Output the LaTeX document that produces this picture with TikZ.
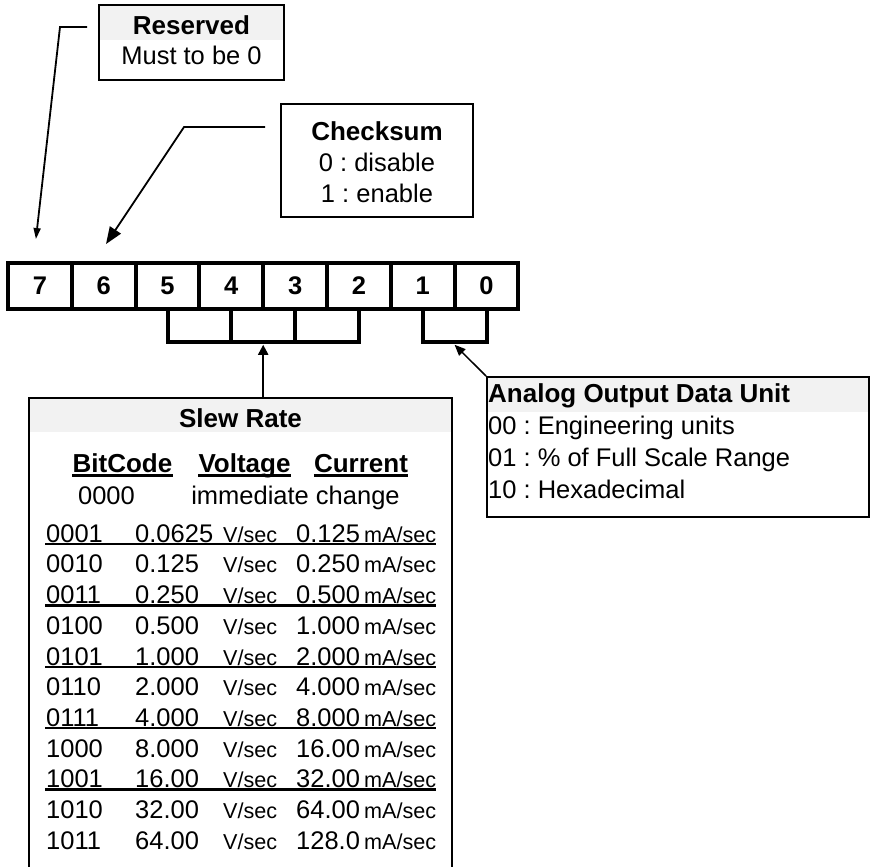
\documentclass[tikz,border=0pt]{standalone}
\usepackage{fontspec}
\setmainfont{Liberation Sans}
\usetikzlibrary{
    arrows.meta,
    calc,
    positioning
}
\frenchspacing
\definecolor{headgrey}{HTML}{F2F2F2}
\newcommand{\bodysize}{\fontsize{25.5}{30}\selectfont}
\newcommand{\unitsize}{\fontsize{21.6}{26}\selectfont}
\tikzset{
    bitcell/.style={draw, line width=4pt, minimum width=63.8pt, minimum height=45.7pt,
        inner sep=0pt, font=\fontsize{25.5}{28}\selectfont\bfseries},
    infobox/.style={draw, line width=2pt, inner sep=0pt},
    headband/.style={path picture={\fill[headgrey] (path picture bounding box.north west)
        rectangle ([yshift=-#1]path picture bounding box.north east);}},
    txt/.style={inner sep=0pt, text height=18.4pt, text depth=0pt, font=\bodysize},
    bold/.style={txt, font=\fontsize{26}{30}\selectfont\bfseries},
    unit/.style={txt, font=\unitsize},
    leader/.style={line width=1.8pt},
    brkline/.style={line width=4pt},
    rowline/.style={line width=2.5pt}
}

\begin{document}
\begin{tikzpicture}[x=1pt, y=-1pt]
                        \useasboundingbox (0, 0) rectangle (873, 867);
                        % bit row
                        \foreach \b [count=\i from 0] in {7,6,...,0}
                            \node[bitcell] (bit\b) at ({8+63.8*(\i+0.5)}, 285.9) {\b};
                        \draw[brkline]
                        (bit5.south) -- ++(0, 31.5) -| (bit2.south)
                        (bit4.south) -- ++(0, 31.5)
                        (bit3.south) -- ++(0, 31.5)
                        (bit1.south) -- ++(0, 31.5) -| (bit0.south);
                        \coordinate (brk52) at ($(bit4.south)!0.5!(bit3.south)+(0, 34)$);
                        \coordinate (brk10) at ($(bit1.south)!0.5!(bit0.south)+(0, 34)$);
                        % boxes
                        \node[infobox, headband=35pt, minimum width=185pt, minimum height=75pt]
                            (reserved) at (191.5, 42.5) {};
                        \node[bold] (restitle) at (191.5, 25) {Reserved};
                        \node[txt] (resline) at (191.5, 55) {Must to be 0};
                        \node[infobox, minimum width=192pt, minimum height=113pt]
                            (checksum) at (377, 160.5) {};
                        \node[bold] (cktitle) at (377, 131) {Checksum};
                        \node[txt] (ckoff) at (377, 162) {0 : disable};
                        \node[txt] (ckon) at (377, 193) {1 : enable};
                        \node[infobox, headband=35pt, minimum width=382pt, minimum height=140pt]
                            (analog) at (678, 447) {};
                        \node[bold, anchor=west] (antitle) at (488, 393) {Analog Output Data Unit};
                        \node[txt, anchor=west] (aneng) at (488, 425) {00 : Engineering units};
                        \node[txt, anchor=west] (anfsr) at (488, 457) {01 : \% of Full Scale Range};
                        \node[txt, anchor=west] (anhex) at (488, 489) {10 : Hexadecimal};
                        \node[infobox, headband=34pt, minimum width=423pt, minimum height=482pt]
                            (slew) at (240.5, 639) {};
                        \node[bold] (slewtitle) at (240.5, 418) {Slew Rate};
                        \node[bold] (hdcode) at (122.5, 463) {BitCode};
                        \node[bold] (hdvolt) at (244.5, 463) {Voltage};
                        \node[bold] (hdcurr) at (361, 463) {Current};
                        \foreach \h in {hdcode, hdvolt, hdcurr}
                            \draw[line width=2.7pt] ([yshift=-3pt]\h.south west) -- ([yshift=-3pt]\h.south east);
                        \node[txt] (code0000) at (106.5, 495) {0000};
                        \node[txt] (immediate) at (295.5, 495) {immediate change};
                        \foreach \code/\volt/\curr [count=\r from 0] in {
                            0001/0.0625/0.125, 0010/0.125/0.250, 0011/0.250/0.500,
                            0100/0.500/1.000, 0101/1.000/2.000, 0110/2.000/4.000,
                            0111/4.000/8.000, 1000/8.000/16.00, 1001/16.00/32.00,
                            1010/32.00/64.00, 1011/64.00/128.0} {
                            \node[txt, anchor=west] (code\r) at (46, {533+30.7*\r}) {\code};
                            \node[txt, anchor=west] (volt\r) at (135, {533+30.7*\r}) {\volt};
                            \node[unit, anchor=west] (vsec\r) at (223, {533+30.7*\r}) {V/sec};
                            \node[txt, anchor=west] (curr\r) at (296, {533+30.7*\r}) {\curr};
                            \node[unit, anchor=west] (unit\r) at (364, {533+30.7*\r}) {mA/sec};
                        }
                        \foreach \r in {0, 2, 4, 6, 8}
                            \draw[rowline] ([xshift=-1pt, yshift=-11pt]code\r.west) -- ([yshift=-11pt]unit\r.east);
                        % connectors
                        \draw[leader, -{Triangle[length=11pt, width=7pt]}]
                        ([xshift=-11pt, yshift=15.5pt]reserved.west) -- ++(-27, 0)
                        -- ([xshift=-4pt, yshift=22pt]bit7.north);
                        \draw[leader, -{Triangle[length=17pt, width=13pt]}]
                        ([xshift=-15pt, yshift=33.5pt]checksum.west) -- ++(-81, 0)
                        -- ([xshift=2.3pt, yshift=17pt]bit6.north);
                        \draw[line width=2pt, -{Triangle[length=10pt, width=10pt]}]
                        (slew.north -| brk52) -- (brk52);
                        \draw[line width=1.5pt, -{Triangle[length=11pt, width=9pt]}]
                        (analog.north west) -- (brk10);
                    \end{tikzpicture}
\end{document}
